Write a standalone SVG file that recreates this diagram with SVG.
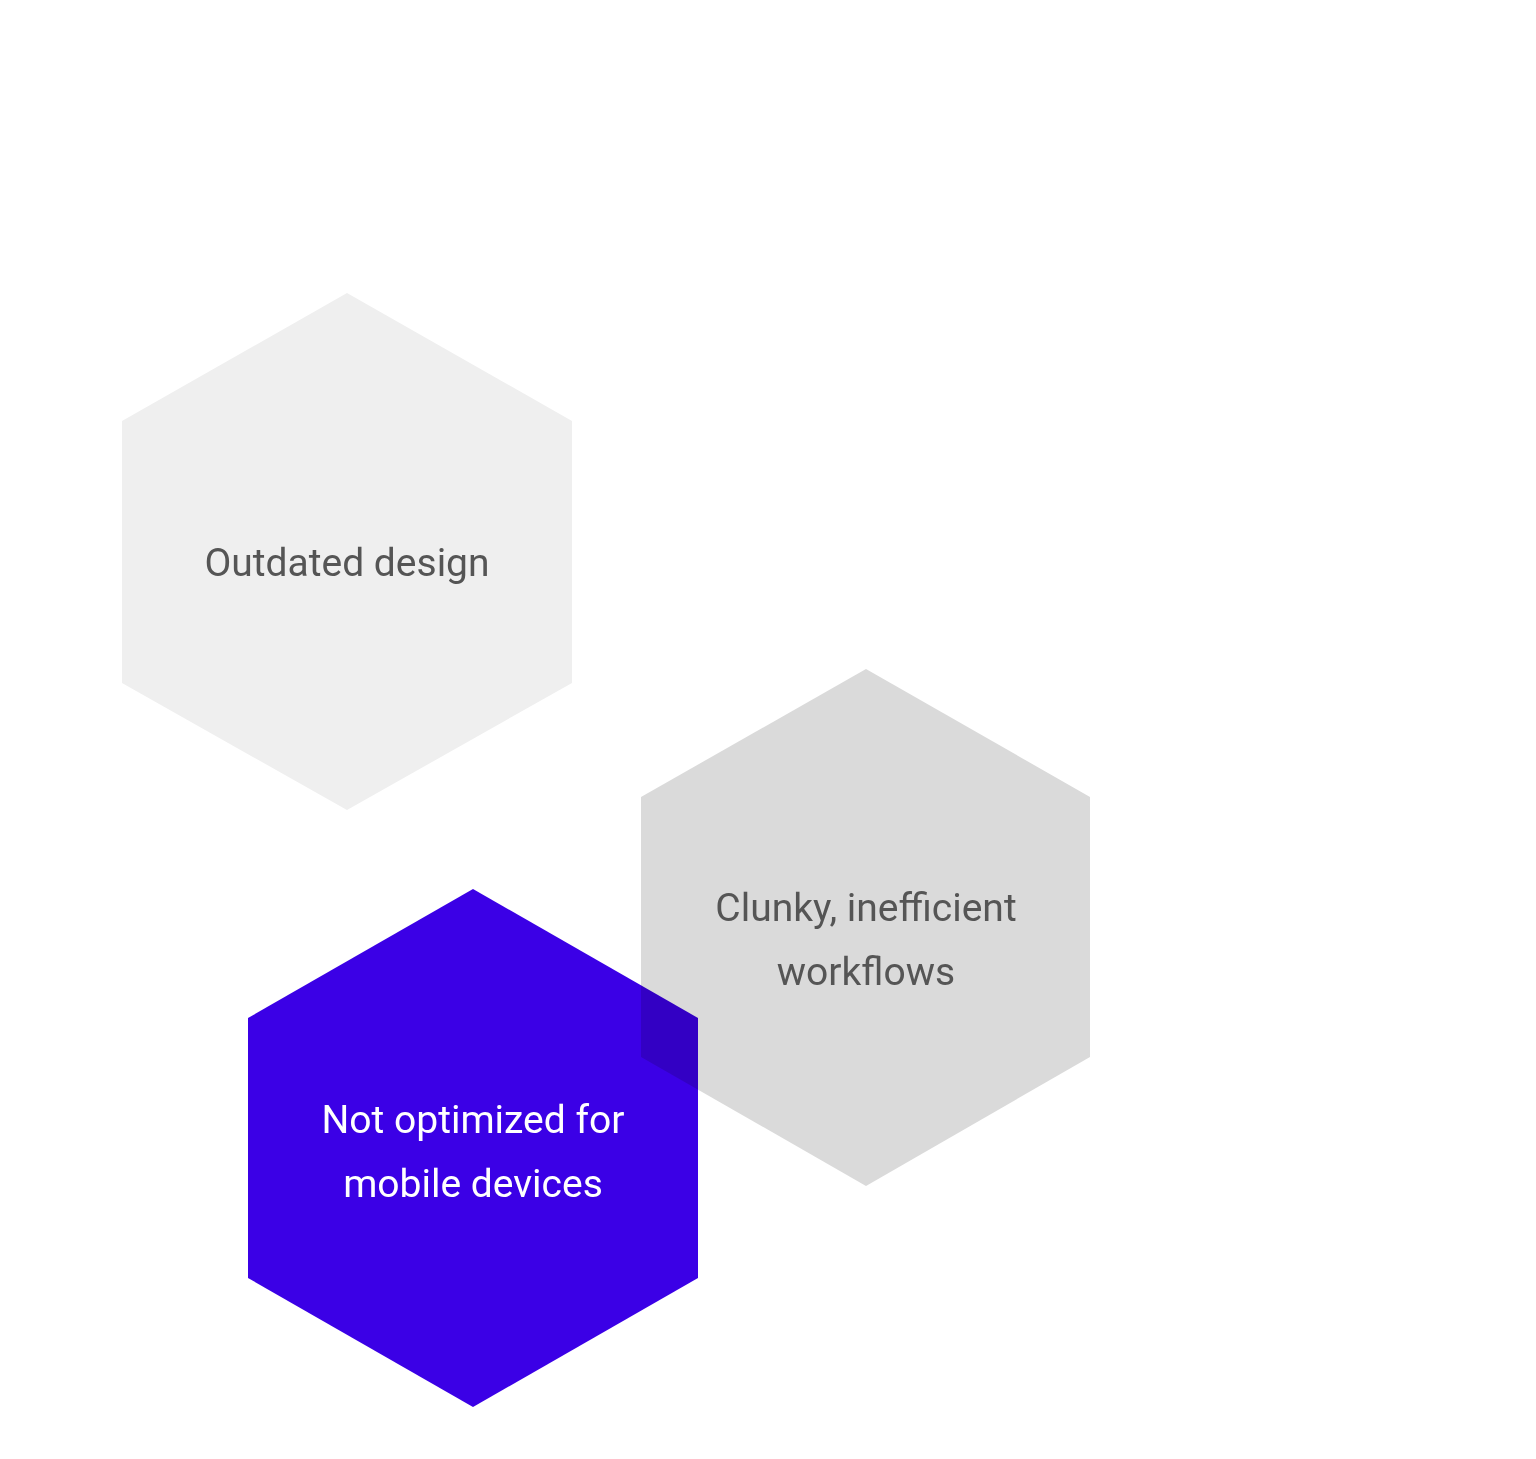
<svg xmlns="http://www.w3.org/2000/svg" width="1536" height="1459" viewBox="0 0 1536 1459">
<style>
.t{font-family:Roboto,"Liberation Sans",sans-serif;font-size:39px;text-anchor:middle}
.g{fill:#555555}
.w{fill:#ffffff}
</style>
<rect width="1536" height="1459" fill="#ffffff"/>
<g id="node-outdated">
<polygon points="347,293 572,421 572,683 347,810 122,683 122,421" fill="#EFEFEF"/>
<text class="t g" x="347" y="576">Outdated design</text>
</g>
<g id="node-clunky">
<polygon points="866,669 1090,797 1090,1057 866,1186 641,1057 641,797" fill="#DADADA"/>
<text class="t g" x="866" y="921">Clunky, inefficient</text>
<text class="t g" x="866" y="985">workflows</text>
</g>
<g id="node-mobile">
<polygon points="473,889 698,1018 698,1278 473,1407 248,1278 248,1018" fill="#3B00E6" style="mix-blend-mode:multiply"/>
<text class="t w" x="473" y="1133">Not optimized for</text>
<text class="t w" x="473" y="1197">mobile devices</text>
</g>
<g id="connectors"/>
</svg>
